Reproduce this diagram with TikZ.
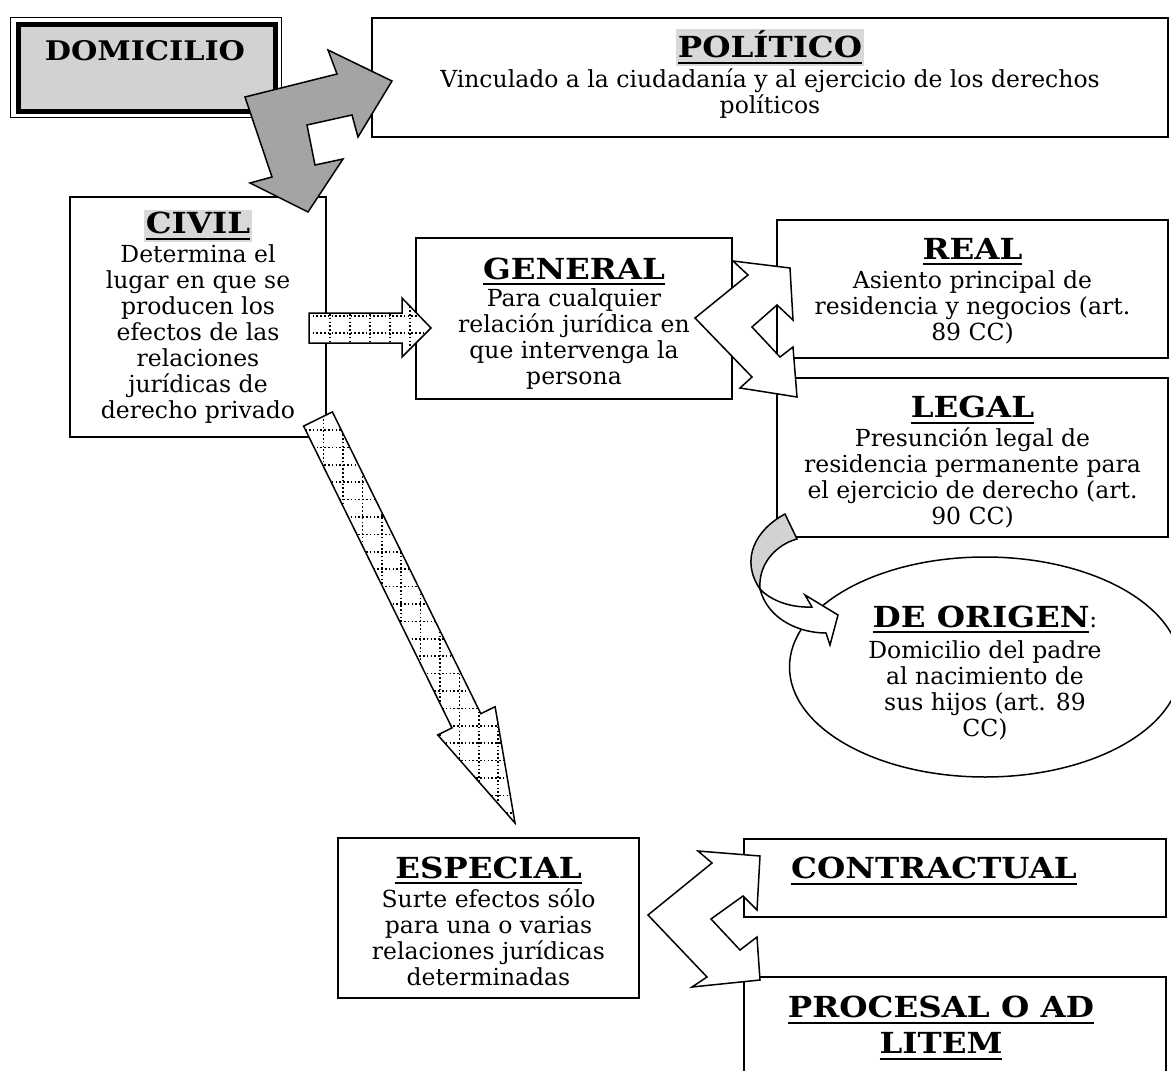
\documentclass[tikz,border=0pt]{standalone}
\usepackage{fontspec}
\setmainfont{DejaVu Serif}
\newfontfamily\ttlfont[FakeStretch=1.12]{DejaVu Serif}
\usetikzlibrary{positioning,shapes.geometric}
\definecolor{Shade}{HTML}{A4A4A4}
\definecolor{Pale}{HTML}{D2D2D2}
\definecolor{Hilite}{HTML}{D9D9D9}
\newcommand\ttl[1]{\setbox0\hbox{\ttlfont\bfseries #1}\rlap{\rule[-6pt]{\wd0}{2pt}}\box0}
\newcommand\hlttl[1]{{\fboxsep=2pt\colorbox{Hilite}{\ttl{#1}}}}
\newcommand\bodysize{\fontsize{23.5}{26}\selectfont}
\newcommand\ttlsize{\fontsize{29}{32}\selectfont}

\begin{document}
\begin{tikzpicture}[x=1pt,y=-1pt,
    box/.style={draw,line width=1.5pt,fill=white,inner sep=0pt},
    txt/.style={align=center,font=\bodysize,inner sep=0pt},
    hatch/.style={line width=1.6pt,dash pattern=on 1.6pt off 2.2pt},
    blockarrow/.style={draw,line width=1.5pt,line join=miter}]
    \useasboundingbox (0,0) rectangle (1171,1071);
    \clip (0,0) rectangle (1171,1071);
    % boxes
    \node[draw,line width=0.8pt,minimum width=271,minimum height=100] (dom) at (145.5,67) {};
    \node[draw,line width=5pt,fill=Pale,minimum width=257,minimum height=87] (dominner) at (146.5,67.5) {};
    \node[box,minimum width=796,minimum height=119] (pol) at (770,77.5) {};
    \node[box,minimum width=256,minimum height=240] (civil) at (198,317) {};
    \node[box,minimum width=316,minimum height=161] (general) at (574,318.5) {};
    \node[box,minimum width=391,minimum height=138] (real) at (972.5,289) {};
    \node[box,minimum width=391,minimum height=159] (legal) at (972.5,457.5) {};
    \node[box,ellipse,minimum width=391,minimum height=220] (origen) at (985,667) {};
    \node[box,minimum width=301,minimum height=160] (especial) at (488.5,918) {};
    \node[box,minimum width=422,minimum height=78] (contr) at (955,878) {};
    \node[box,minimum width=422,minimum height=123] (proc) at (955,1038.5) {};
    % texts
    \node[font=\fontsize{27}{30}\selectfont\ttlfont\bfseries] (domtxt) at (145,51) {DOMICILIO};
    \node[txt,yshift=4pt] (poltxt) at (pol) {{\ttlsize\hlttl{POLÍTICO}}\\[2pt]Vinculado a la ciudadanía y al ejercicio de los derechos\\políticos};
    \node[txt] (civiltxt) at (civil) {{\ttlsize\hlttl{CIVIL}}\\[3pt]Determina el\\lugar en que se\\producen los\\efectos de las\\relaciones\\jurídicas de\\derecho privado};
    \node[txt,yshift=-5pt] (generaltxt) at (general) {{\ttlsize\ttl{GENERAL}}\\[1pt]Para cualquier\\relación jurídica en\\que intervenga la\\persona};
    \node[txt,yshift=-2pt] (realtxt) at (real) {{\ttlsize\ttl{REAL}}\\[3pt]Asiento principal de\\residencia y negocios (art.\\89 CC)};
    \node[txt,yshift=-5pt] (legaltxt) at (legal) {{\ttlsize\ttl{LEGAL}}\\[3pt]Presunción legal de\\residencia permanente para\\el ejercicio de derecho (art.\\90 CC)};
    \node[txt,yshift=-6pt] (origentxt) at (origen) {{\ttlsize\ttl{DE ORIGEN}}:\\[5pt]Domicilio del padre\\al nacimiento de\\sus hijos (art. 89\\CC)};
    \node[txt,yshift=-3pt] (especialtxt) at (especial) {{\ttlsize\ttl{ESPECIAL}}\\[3pt]Surte efectos sólo\\para una o varias\\relaciones jurídicas\\determinadas};
    \node[font=\ttlsize] (contrtxt) at (934,871) {\ttl{CONTRACTUAL}};
    \node[font=\ttlsize,align=center] (proctxt) at (941,1028) {\ttl{PROCESAL O AD}\\[4pt]\ttl{LITEM}};
    % block arrows
    \draw[blockarrow,fill=Shade] (245,97) -- (337,74) -- (328,50) -- (392,81) -- (358,137) -- (352,115)
      -- (307,125) -- (315,165) -- (343,159) -- (308,212) -- (250,183) -- (272,177) -- cycle;
    \draw[blockarrow,fill=white,path picture={
        \foreach \x in {330,350,...,410} \draw[hatch] (\x,295) -- (\x,360);
        \foreach \y in {316,333} \draw[hatch] (305,\y) -- (435,\y);}]
      (309,313) -- (402,313) -- (402,298) -- (431,328) -- (402,357) -- (402,343) -- (309,343) -- cycle;
    \draw[blockarrow,fill=white,path picture={
        \foreach \x in {323.5,342.9,...,520} \draw[hatch] (\x,400) -- (\x,830);
        \foreach \y in {430,447.4,...,830} \draw[hatch] (290,\y) -- (525,\y);}]
      (303.6,426.1) -- (332.4,411.9) -- (480.8,713.7) -- (495.1,706.7) -- (515,823) -- (437.7,734.9)
      -- (452,727.9) -- cycle;
    \draw[blockarrow,fill=white] (733,261) -- (790,268) -- (793,320) -- (777,305) -- (752,327) -- (780,357)
      -- (793,347) -- (797,397) -- (740,388) -- (752,377) -- (695,318) -- (748,275) -- cycle;
    \draw[blockarrow,fill=white] (698,851) -- (760,856) -- (757,910) -- (743,896) -- (711,919) -- (740,950)
      -- (757,937) -- (760,980) -- (692,987) -- (707,977) -- (648,915) -- (712,863) -- cycle;
    \draw[blockarrow,fill=Pale] (785,514) .. controls (755,530) and (740,560) .. (760,589)
      .. controls (758,565) and (775,545) .. (797,539) -- cycle;
    \draw[blockarrow,fill=white] (760,589) .. controls (770,600) and (790,608) .. (812,607) -- (805,595)
      -- (838,615) -- (830,645) -- (826,633) .. controls (800,633) and (768,620) .. (760,589) -- cycle;
\end{tikzpicture}
\end{document}
